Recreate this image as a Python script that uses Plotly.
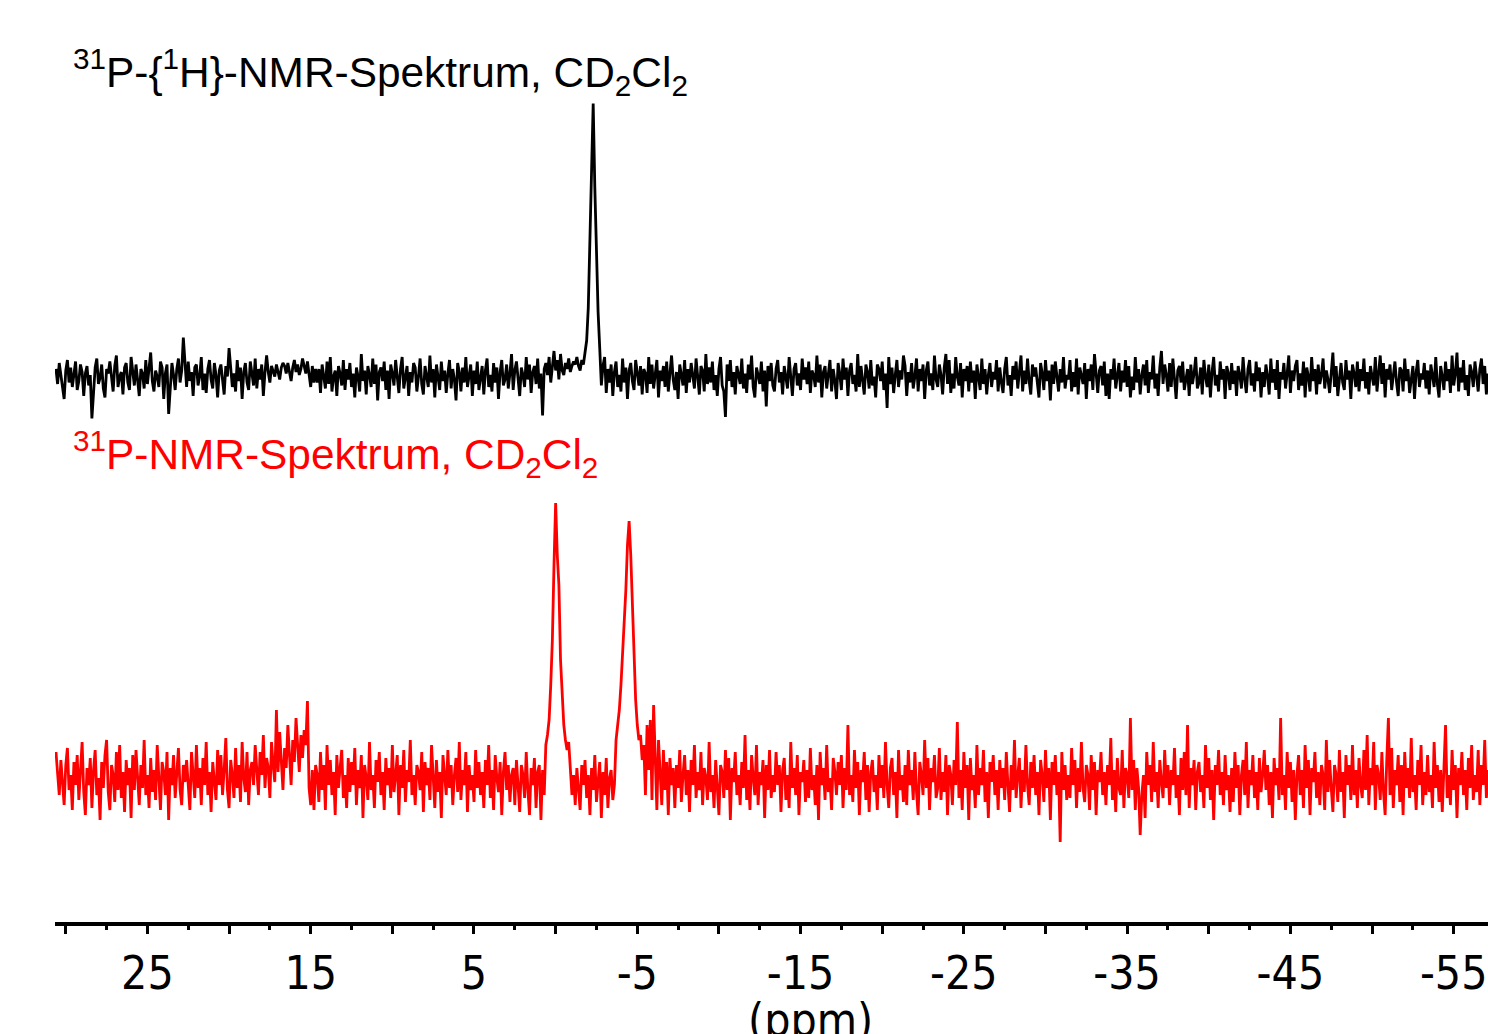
import numpy as np
import plotly.graph_objects as go

# ---------------- data ----------------
# chemical-shift grid (ppm): first point and spacing of the sampled spectra
ppm_start = 30.6
ppm_step = -0.1

# 31P-{1H} spectrum (black) – intensity, arbitrary units
p_decoupled = [
    6, -4, 10, 2, -9, -14, 5, 12, -3, 7,
    -6, 1, 11, -8, -2, 9, 4, -12, 3, 8,
    -5, 2, -27, -10, 7, 13, -4, 0, 9, -7,
    -13, 6, 3, 11, -2, -9, 8, 15, -6, 1,
    4, -11, 7, 10, -3, -8, 14, 2, -5, 9,
    -1, -12, 6, 3, -7, 12, -4, 8, 17, -2,
    -9, 5, 1, -6, 11, 7, -14, 3, 9, -24,
    -4, 10, 2, -8, 6, 13, -3, 5, 27, 8,
    -6, 11, -2, 4, -12, 7, 9, -5, 1, 14,
    -8, 3, -10, 6, 12, -1, -7, 10, 2, -13,
    5, 9, -4, -11, 8, 1, 20, 6, -6, 3,
    -9, 12, -2, 7, -14, 4, 10, -3, -8, 11,
    2, -5, 13, -7, 6, -1, 9, -12, 4, 15,
    4, -3, 8, 5, 1, 9, 4, -1, 7, 10,
    8, 3, 10, 5, -2, 7, 12, 4, 9, 2,
    6, 13, 7, 3, 11, 2, -6, 8, -3, 6,
    -3, 6, -10, 9, 2, -7, 11, -4, 14, -9,
    1, 5, -12, 8, 3, -5, 12, -8, 6, -1,
    10, -6, 3, -13, 7, 1, -9, 16, -2, 5,
    -11, 8, 2, -6, 13, -4, 9, -15, 4, 7,
    -2, 11, -8, 5, -14, 9, 3, -5, 12, -1,
    -10, 6, 14, -7, 2, 8, -12, 4, -3, 10,
    7, -9, 1, 13, -4, -11, 8, 2, -6, 15,
    -3, 6, -13, 9, 1, -8, 11, -2, 5, -10,
    3, 12, -7, 6, -1, -15, 10, 4, -9, 7,
    -3, 14, -6, 2, 9, -12, 5, -4, 11, -8,
    1, 8, -11, 5, 13, -6, 2, -9, 10, -3,
    7, -14, 4, 12, -5, -1, 9, -7, 3, 16,
    -8, 5, 11, -3, -12, 7, 2, -6, 14, -1,
    9, -10, 4, 8, -4, 13, -7, 3, -25, 6,
    10, 2, 14, -3, 8, 18, 5, 12, -1, 16,
    5, 2, 10, 6, 13, 4, 8, 11, 9, 14,
    8, 5, 12, 9, 17, 25, 47, 87, 143, 183,
    127, 73, 44, 20, -5, 8, 14, -10, 6, -3,
    9, -12, 4, 11, -6, 2, -9, 13, -3, 7,
    -14, 5, 10, -2, -8, 12, 1, -5, 8, -11,
    6, 3, -10, 14, -4, 9, -7, 1, 12, -13,
    5, -2, 8, -6, 11, -9, 3, 15, -1, -8,
    4, -14, 9, 2, -5, 12, -10, 6, -3, 10,
    1, -7, 13, -2, -11, 8, 5, -9, 16, -4,
    7, -3, 11, -8, 2, -12, 6, 14, -5, -9,
    -26, 9, -2, 12, -6, 4, -11, 8, 1, -4,
    13, -7, 3, -10, 9, -1, 15, -6, -13, 7,
    2, -4, 11, -9, 5, -19, 8, -2, 10, -5,
    -9, 6, 12, -3, 4, -11, 8, 1, -7, 14,
    -2, -12, 6, 10, -5, 3, -8, 13, -1, 7,
    -4, 11, -10, 5, 2, -6, 15, -3, 9, -13,
    4, 8, -7, 1, 12, -9, 6, -2, -14, 10,
    3, -8, 13, -1, 7, -12, 5, 10, -4, 2,
    -9, 16, -6, 8, -3, -11, 9, 4, -7, 12,
    -5, 1, -13, 9, 6, -2, 11, -8, 3, -20,
    14, -4, 7, -10, 2, 12, -6, 5, -1, 15,
    8, -12, 4, -3, 10, -7, 1, 13, -9, 6,
    -2, 9, -14, 5, 11, -5, 3, -8, 15, -1,
    -6, 9, 2, -11, 7, 16, -4, 12, -10, 3,
    -7, 14, 1, -5, 10, -13, 6, -2, 8, -9,
    11, -3, 5, -14, 9, 1, -8, 13, -4, 6,
    -11, 2, 10, -6, 4, -1, 12, -9, 7, -3,
    -10, 6, 14, -5, 2, -12, 8, -1, 11, -7,
    3, 15, -9, 5, -4, 13, -2, -11, 9, 1,
    7, -6, -13, 10, 3, -8, 12, -2, 5, -15,
    9, -4, 11, 1, -9, 6, -3, 14, -7, 2,
    -1, 12, -9, 4, -6, 13, -11, 7, 2, -4,
    10, -14, 6, -2, 9, -8, 16, 3, -10, 5,
    8, -5, 11, -12, 3, -14, 6, -1, 13, -7,
    2, 10, -9, 5, -3, 12, -6, 8, -13, 1,
    -8, 14, -3, 6, -11, 2, 9, -5, 12, -10,
    4, -1, 15, -7, 3, -12, 7, 18, -4, 9,
    2, -9, 10, -6, 13, -2, -14, 5, 8, -3,
    11, -8, 1, 6, -12, 9, -4, 3, 14, -7,
    -3, 7, -11, 12, 1, -6, 9, -13, 4, 14,
    -5, 2, -9, 11, -1, 6, -14, 8, 3, -8,
    10, -4, 5, -12, 8, 2, -7, 14, -1, -10,
    6, 12, -5, 3, -9, 11, -2, 7, -13, 4,
    -6, 9, 1, -11, 13, -3, 6, -8, 12, -14,
    4, -1, 10, -7, 3, 15, -10, 5, -2, 8,
    12, -8, 3, -5, 11, -13, 7, 1, -9, 14,
    -2, 6, -11, 9, -4, 2, 13, -7, 5, -1,
    -10, 4, 17, -6, 8, -12, 2, 10, -3, -8,
    12, -1, 5, -14, 9, 3, -6, 11, -9, 6,
    -2, 13, -7, 4, -11, 8, 1, -5, 14, -9,
    3, 15, -4, 10, -13, 6, -1, 9, -8, 2,
    11, -3, -12, 7, 5, -9, 13, -2, 6, -10,
    1, 8, -14, 4, 12, -6, 3, -1, 10, -7,
    5, -11, 9, 2, -6, 14, -4, -13, 8, 1,
    -8, 11, -2, 6, -10, 15, -5, 3, 17, -9,
    7, -3, 12, -8, 2, -12, 9, 4, -6, 11,
    -1, -9, 6, 13, -4, 8, -11, 3,
]

# 31P spectrum (red) – intensity, arbitrary units
p_coupled = [
    28, 10, -15, 20, -8, -25, 15, 32, -10, 5,
    -30, 18, -5, 25, -20, 8, 38, -12, -35, 12,
    -5, 22, -28, 10, 30, -15, 2, -40, 18, -8,
    25, 40, -12, -30, 15, 5, -22, 28, -10, 35,
    -18, 8, -32, 20, -5, 12, -38, 25, -10, 30,
    2, -25, 15, -8, 40, -15, 5, -28, 22, -12,
    10, -20, 35, -5, -30, 18, 8, -15, 28, -40,
    12, -5, 25, -18, 5, 32, -10, -25, 15, -2,
    20, -12, -30, 28, 5, -18, 35, -8, 12, -25,
    22, -5, 38, -15, 8, -32, 18, 2, -20, 30,
    -5, 25, -15, 10, 42, -10, -28, 20, 5, -18,
    32, -8, 15, -22, 38, 2, -12, 28, -25, 10,
    18, -5, 35, 10, -15, 28, 5, 45, -8, 22,
    12, -18, 38, 15, -2, 70, 8, 48, 20, -10,
    32, 12, 55, 25, -5, 40, 18, 62, 30, 8,
    45, 22, 50, 35, 79, -8, -25, 10, -30, 15,
    5, -22, 28, -10, 15, -30, 35, -5, 20, -15,
    8, -35, 25, -8, 12, 30, -18, 5, -28, 22,
    -12, 18, -5, 32, -25, 10, -8, 25, -38, 15,
    2, -20, 38, -10, 5, -28, 20, -2, 28, -15,
    8, -30, 22, -5, 12, -18, 35, -12, 5, 25,
    -35, 15, -8, 30, -22, 10, -2, 40, -15, 5,
    -25, 15, 8, -10, 28, -32, 18, -5, 12, -20,
    35, 2, -28, 20, -12, 8, -38, 25, 5, -15,
    30, -8, 15, -25, 5, 22, -12, 38, -20, 10,
    -5, 28, -32, 15, -10, 5, -22, 30, -8, 18,
    -15, 8, -28, 20, -5, 35, -18, 10, -30, 25,
    2, -12, 18, -35, 8, 28, -10, 15, -22, 5,
    12, -25, 20, -8, -32, 15, 5, -18, 28, -10,
    -35, 12, -5, 22, -28, 8, 15, -40, 10, -15,
    35, 45, 60, 95, 140, 215, 277, 225, 195, 120,
    80, 55, 40, 30, 38, 10, -15, 5, -25, 12,
    -8, -30, 15, -5, 20, -18, 5, -35, 12, -10,
    25, -22, -2, 18, -38, 8, -15, 22, -28, 2,
    10, -20, -5, 40, 55, 70, 95, 125, 150, 190,
    235, 259, 225, 180, 120, 80, 55, 40, 45, 20,
    35, -15, 55, 10, 60, -20, 75, 25, -30, 40,
    5, -25, 30, -10, 18, -35, 22, -5, 12, -28,
    15, -8, 30, -22, 5, 25, -15, 10, -32, 20,
    -5, 35, -18, 8, -10, 28, -25, 12, 2, -20,
    38, -12, 5, -28, 20, -5, -35, 15, 8, -18,
    30, -10, 22, -40, 12, -2, 28, -15, 5, -25,
    18, -8, 45, -20, 10, -30, 25, 2, -15, 35,
    -25, 8, -5, 20, -38, 15, -10, 30, -18, 5,
    -12, 28, -5, 15, -32, 10, 22, -20, 5, -28,
    38, -8, 12, -15, 25, -35, 8, -2, 20, -22,
    10, -18, 32, -10, 5, -25, 15, -40, 28, -5,
    12, -20, 35, -12, 2, -30, 22, 8, -15, 18,
    -5, 25, -28, 12, -10, 55, -15, 5, -22, 30,
    -8, 18, -35, 10, -2, 28, -20, 15, -32, 8,
    20, -12, 5, -30, 25, -8, 15, -18, 38, -5,
    -28, 12, 22, -15, 8, -38, 30, -10, 5, -22,
    15, -25, 30, -5, 10, -20, 28, -12, -35, 18,
    5, -15, 40, -8, 22, -30, 12, -2, 25, -18,
    -8, 32, -20, 8, -12, 25, -35, 15, 5, -25,
    20, -5, 58, -18, 10, -30, 28, -8, 15, -40,
    22, -10, 5, -28, 35, -15, 12, -5, 30, -22,
    8, -38, 18, -2, 25, -15, 10, -30, 20, -8,
    12, -20, 28, -5, -32, 15, -10, 40, -18, 5,
    22, -28, 10, -12, 35, -5, -25, 18, -8, 25,
    -15, 8, -35, 20, 5, -22, 30, -8, 12, -40,
    18, -5, 25, -15, 8, -62, 28, -10, 15, -20,
    5, -18, 32, -5, 20, -28, 12, -12, 38, -8,
    -22, 15, 5, -30, 25, -10, 18, -35, 10, -2,
    28, -15, 8, -25, 15, -5, 42, -20, 10, -32,
    22, -8, -15, 30, -28, 12, 5, -18, 62, -10,
    20, -30, 12, -8, -55, -15, 5, -38, 28, -5,
    15, -22, 38, -12, 8, -28, 20, -2, -18, 30,
    -8, 15, -25, 10, -5, 32, -18, 5, -35, 22,
    -10, 28, -15, 55, -28, 12, -5, 20, -30, 8,
    18, -12, 5, -28, 35, -8, 22, -20, 10, -40,
    15, -5, 30, -15, 8, -25, 25, -10, 5, -32,
    12, -22, 28, -8, 15, -35, 5, 20, -15, 38,
    -28, 10, -5, 25, -18, 8, -30, 22, -12, 5,
    30, -10, 15, -25, 8, -38, 22, -5, 12, -20,
    62, -15, 5, -30, 28, -8, 18, -22, 10, -40,
    5, 25, -15, 10, -28, 35, -8, 20, -35, 12,
    -2, 28, -18, 8, -25, 15, 5, -30, 40, -12,
    20, -8, -32, 15, 5, -22, 30, -12, 8, -38,
    25, -5, 15, -20, 35, -15, 10, -28, 22, -5,
    -18, 30, -10, 45, -25, 12, -5, 38, -30, 15,
    5, -20, 28, -12, -35, 20, 62, -15, 32, -28,
    10, -5, 25, -22, 15, -35, 28, -8, 12, -18,
    42, -12, 5, -30, 20, -5, 35, -25, 8, -15,
    25, -12, 5, -28, 38, -8, 15, -22, 10, -32,
    20, 55, -18, 5, -25, 30, -10, 15, -38, 12,
    -5, 28, -15, 10, -30, 22, -8, 35, -20, 5,
    -12, 30, -25, 15, -5, 40, -18, 10,
]

label_decoupled = "<sup>31</sup>P-{<sup>1</sup>H}-NMR-Spektrum, CD<sub>2</sub>Cl<sub>2</sub>"
label_coupled = "<sup>31</sup>P-NMR-Spektrum, CD<sub>2</sub>Cl<sub>2</sub>"

major_ticks = [30, 25, 20, 15, 10, 5, 0, -5, -10, -15, -20, -25, -30, -35, -40, -45, -50, -55]
tick_labels = ["", "25", "", "15", "", "5", "", "-5", "", "-15", "", "-25", "", "-35", "", "-45", "", "-55"]
minor_ticks = [27.5, 22.5, 17.5, 12.5, 7.5, 2.5, -2.5, -7.5, -12.5, -17.5, -22.5, -27.5,
               -32.5, -37.5, -42.5, -47.5, -52.5]
x_label = "(ppm)"

# ---------------- figure ----------------
ppm_black = np.round(ppm_start + ppm_step * np.arange(len(p_decoupled)), 2)
ppm_red = np.round(ppm_start + ppm_step * np.arange(len(p_coupled)), 2)

W, H = 1488, 1034
ml, mr, mt, mb = 55, 0, 0, 112
pw = W - ml - mr
ph = H - mt - mb

# vertical placement of the stacked spectra (pixels above the x axis) and scale
base_red_px = 142
base_black_px = 544
scale_red = 1.0      # pixels per intensity unit
scale_black = 1.5

def px_x(p):
    return (p - ml) / pw

def px_y(p):
    return (H - mb - p) / ph

title_font = "Liberation Sans, Arial, sans-serif"
tick_font = "DejaVu Sans Condensed, Tahoma, DejaVu Sans, sans-serif"

fig = go.Figure()
fig.add_trace(go.Scatter(x=ppm_red, y=p_coupled, mode="lines", yaxis="y",
                         line=dict(color="#ff0000", width=2.8), showlegend=False))
fig.add_trace(go.Scatter(x=ppm_black, y=p_decoupled, mode="lines", yaxis="y2",
                         line=dict(color="#000000", width=2.8), showlegend=False))

fig.add_annotation(text=label_decoupled, xref="paper", yref="paper",
                   x=px_x(71), y=px_y(72), xanchor="left", yanchor="middle",
                   showarrow=False, font=dict(family=title_font, size=42.4, color="#000000"))
fig.add_annotation(text=label_coupled, xref="paper", yref="paper",
                   x=px_x(71), y=px_y(454), xanchor="left", yanchor="middle",
                   showarrow=False, font=dict(family=title_font, size=42.4, color="#ff0000"))
fig.add_annotation(text=x_label, xref="x", yref="paper",
                   x=-15.6, y=px_y(1020), xanchor="center", yanchor="middle",
                   showarrow=False, font=dict(family=tick_font, size=46, color="#000000"))

fig.update_layout(
    width=W, height=H,
    margin=dict(l=ml, r=mr, t=mt, b=mb, pad=0, autoexpand=False),
    paper_bgcolor="white", plot_bgcolor="white",
    hovermode=False,
    xaxis=dict(range=[30.66, -57.1], automargin=False, showline=True, linecolor="black",
               linewidth=3.5, showgrid=False, zeroline=False, ticks="outside", ticklen=8,
               tickwidth=3, tickcolor="black", tickmode="array", tickvals=major_ticks,
               ticktext=tick_labels,
               tickfont=dict(family=tick_font, size=46, color="black"),
               minor=dict(tickmode="array", tickvals=minor_ticks, ticks="outside", ticklen=4,
                          tickwidth=3, tickcolor="black", showgrid=False)),
    yaxis=dict(range=[-base_red_px / scale_red, (ph - base_red_px) / scale_red],
               visible=False, showgrid=False, zeroline=False, automargin=False),
    yaxis2=dict(range=[-base_black_px / scale_black, (ph - base_black_px) / scale_black],
                overlaying="y", visible=False, showgrid=False, zeroline=False, automargin=False),
)

fig.write_html("out.html",
               config={"displayModeBar": False, "staticPlot": True},
               post_script="document.body.style.margin='0';document.body.style.overflow='hidden';")
